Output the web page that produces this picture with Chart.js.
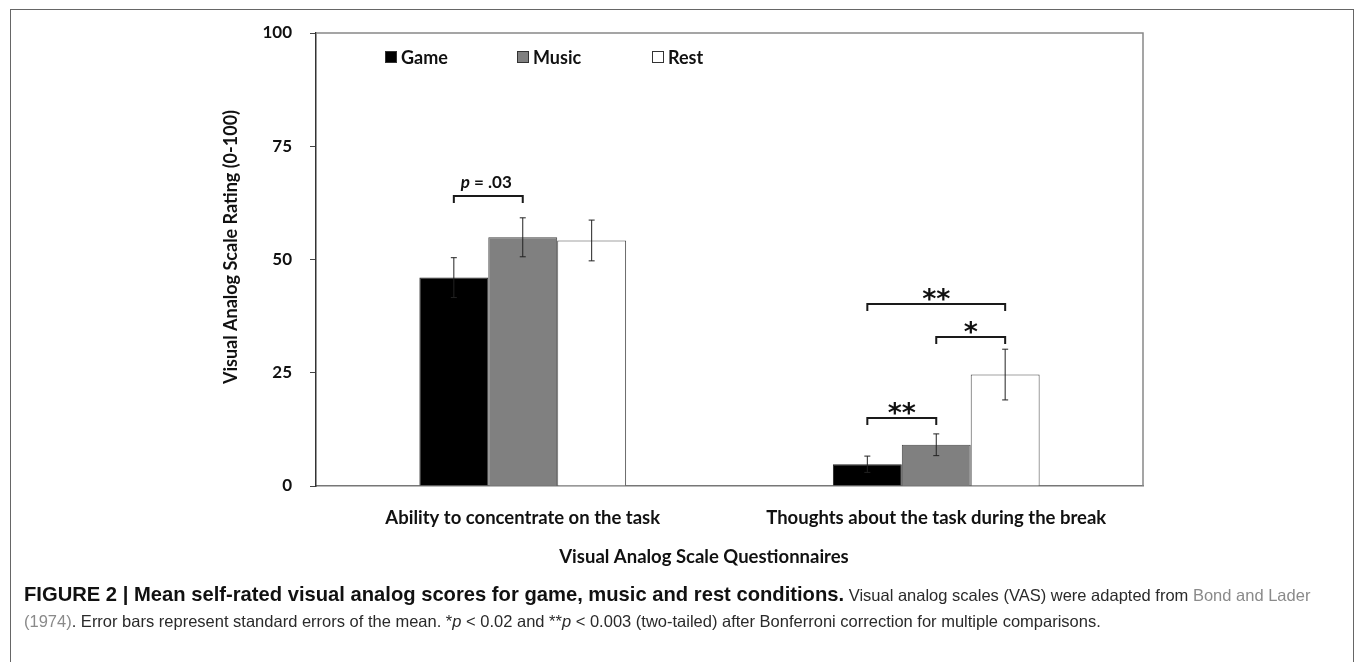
<!DOCTYPE html>
<html>
<head>
<meta charset="utf-8">
<script src="https://cdn.jsdelivr.net/npm/chart.js@4.4.1/dist/chart.umd.min.js"></script>
<style>
  html, body { margin: 0; padding: 0; background: #fff; }
  body { width: 1355px; height: 662px; position: relative; overflow: hidden; }
  #frame { position: absolute; left: 10px; top: 9px; width: 1344px; height: 700px; border: 1.5px solid #666; box-sizing: border-box; }
  #wrap { position: absolute; left: 0; top: 0; width: 1355px; height: 662px; }
  #caption { position: absolute; left: 24px; top: 581px; font-family: "Liberation Sans", Arial, sans-serif; font-size: 16.5px; line-height: 26px; color: #2a2a2a; white-space: nowrap; }
  #caption b { color: #111; font-size: 20.2px; }
  #caption .ref { color: #8a8a8a; }
</style>
</head>
<body>
<div id="frame"></div>
<div id="wrap"><canvas id="vasChart"></canvas></div>
<div id="caption"><b>FIGURE 2 | Mean self-rated visual analog scores for game, music and rest conditions.</b> Visual analog scales (VAS) were adapted from <span class="ref">Bond and Lader</span><br><span class="ref">(1974)</span>. Error bars represent standard errors of the mean. *<i>p</i> &lt; 0.02 and **<i>p</i> &lt; 0.003 (two-tailed) after Bonferroni correction for multiple comparisons.</div>
<script>
// ---- data ----
const categories = ['Ability to concentrate on the task', 'Thoughts about the task during the break'];
const gameMeans  = [46.0, 4.8];
const musicMeans = [54.9, 9.1];
const restMeans  = [54.2, 24.6];
const gameSE  = [4.4, 1.8];
const musicSE = [4.3, 2.4];
const restSE  = [4.5, 5.6];
const yTicks = [0, 25, 50, 75, 100];
// significance brackets: category, from dataset, to dataset, height (scale units), label
const brackets = [
  { cat: 0, from: 0, to: 1, y: 64.0, label: 'p = .03' },
  { cat: 1, from: 0, to: 2, y: 40.2, label: '**' },
  { cat: 1, from: 1, to: 2, y: 32.9, label: '*' },
  { cat: 1, from: 0, to: 1, y: 15.0, label: '**' }
];
const xTitle = 'Visual Analog Scale Questionnaires';
const yTitle = 'Visual Analog Scale Rating (0-100)';

const FONT = 'Lato, "Open Sans", sans-serif';
const errors = [gameSE, musicSE, restSE];

// error bars + brackets + frame lines + legend + axis titles
const extrasPlugin = {
  id: 'extras',
  afterDatasetsDraw(chart) {
    const ctx = chart.ctx;
    const y = chart.scales.y;
    const area = chart.chartArea;
    ctx.save();
    // top + right border of plot
    ctx.strokeStyle = '#888';
    ctx.lineWidth = 1.5;
    ctx.beginPath();
    ctx.moveTo(area.left, area.top);
    ctx.lineTo(area.right, area.top);
    ctx.lineTo(area.right, area.bottom);
    ctx.stroke();

    // error bars
    ctx.strokeStyle = '#222';
    ctx.lineWidth = 1;
    chart.data.datasets.forEach((ds, di) => {
      const meta = chart.getDatasetMeta(di);
      meta.data.forEach((bar, i) => {
        const v = ds.data[i];
        const se = errors[di][i];
        const yTop = y.getPixelForValue(v + se);
        const yBot = y.getPixelForValue(v - se);
        ctx.beginPath();
        ctx.moveTo(bar.x, yTop); ctx.lineTo(bar.x, yBot);
        ctx.moveTo(bar.x - 3, yTop); ctx.lineTo(bar.x + 3, yTop);
        ctx.moveTo(bar.x - 3, yBot); ctx.lineTo(bar.x + 3, yBot);
        ctx.stroke();
      });
    });

    // brackets
    brackets.forEach(b => {
      const x1 = chart.getDatasetMeta(b.from).data[b.cat].x;
      const x2 = chart.getDatasetMeta(b.to).data[b.cat].x;
      const yy = y.getPixelForValue(b.y);
      ctx.strokeStyle = '#1a1a1a';
      ctx.lineWidth = 2;
      ctx.beginPath();
      ctx.moveTo(x1, yy + 7); ctx.lineTo(x1, yy); ctx.lineTo(x2, yy); ctx.lineTo(x2, yy + 7);
      ctx.stroke();
      ctx.fillStyle = '#111';
      ctx.textAlign = 'center';
      ctx.textBaseline = 'alphabetic';
      const cx = (x1 + x2) / 2;
      if (b.label.startsWith('p')) {
        ctx.font = 'italic bold 17px ' + FONT;
        const pW = ctx.measureText('p').width;
        ctx.font = 'bold 17px ' + FONT;
        const rest = b.label.slice(1);
        const rW = ctx.measureText(rest).width;
        const start = cx - (pW + rW) / 2 - 2;
        ctx.textAlign = 'left';
        ctx.font = 'italic bold 17px ' + FONT;
        ctx.fillText('p', start, yy - 8);
        ctx.font = 'bold 17px ' + FONT;
        ctx.fillText(rest, start + pW, yy - 8);
      } else {
        ctx.font = 'bold 27px "DejaVu Sans", sans-serif';
        const m = ctx.measureText(b.label);
        const base = (yy - 3) - m.actualBoundingBoxDescent;
        ctx.fillText(b.label, cx, base);
      }
    });

    // legend
    const legendX = [385, 517, 652];
    chart.data.datasets.forEach((ds, di) => {
      const lx = legendX[di], ly = 57;
      ctx.fillStyle = ds.backgroundColor;
      ctx.fillRect(lx, ly - 6, 12, 12);
      ctx.strokeStyle = '#333';
      ctx.lineWidth = 1;
      ctx.strokeRect(lx + 0.5, ly - 5.5, 11, 11);
      ctx.fillStyle = '#111';
      ctx.font = 'bold 18px ' + FONT;
      ctx.textAlign = 'left';
      ctx.textBaseline = 'middle';
      ctx.fillText(ds.label, lx + 16, ly + 1);
    });

    // axis titles
    ctx.fillStyle = '#111';
    ctx.font = 'bold 18.5px ' + FONT;
    ctx.textAlign = 'center';
    ctx.textBaseline = 'middle';
    ctx.fillText(xTitle, 704, 557);
    ctx.font = 'bold 18px ' + FONT;
    ctx.translate(231, 247);
    ctx.rotate(-Math.PI / 2);
    ctx.fillText(yTitle, 0, 0);
    ctx.restore();
  }
};

const ctx = document.getElementById('vasChart').getContext('2d');
const vasChart = new Chart(ctx, {
  type: 'bar',
  data: {
    labels: categories,
    datasets: [
      { label: 'Game',  data: gameMeans,  backgroundColor: '#000000', borderColor: '#222', borderWidth: 1 },
      { label: 'Music', data: musicMeans, backgroundColor: '#808080', borderColor: '#444', borderWidth: 1 },
      { label: 'Rest',  data: restMeans,  backgroundColor: '#ffffff', borderColor: '#444', borderWidth: 1 }
    ]
  },
  options: {
    responsive: true,
    maintainAspectRatio: false,
    animation: false,
    layout: { padding: { left: 220, right: 212, top: 33, bottom: 95 } },
    datasets: { bar: { barPercentage: 1.0, categoryPercentage: 0.5 } },
    plugins: {
      legend: { display: false },
      tooltip: { enabled: false }
    },
    scales: {
      x: {
        grid: { display: false },
        border: { display: true, color: '#777', width: 1.5 },
        ticks: { color: '#111', font: { family: FONT, size: 18.5, weight: 'bold' }, padding: 13, maxRotation: 0 },
        afterFit(scale) { scale.height = 81; }
      },
      y: {
        min: 0,
        max: 100,
        afterBuildTicks(scale) { scale.ticks = yTicks.map(v => ({ value: v })); },
        grid: { drawOnChartArea: false, drawTicks: true, tickLength: 6, color: '#444' },
        border: { display: true, color: '#333', width: 1.5 },
        ticks: { color: '#111', font: { family: FONT, size: 17, weight: 'bold' }, padding: 18 },
        afterFit(scale) { scale.width = 96; }
      }
    }
  },
  plugins: [extrasPlugin]
});
</script>
</body>
</html>
